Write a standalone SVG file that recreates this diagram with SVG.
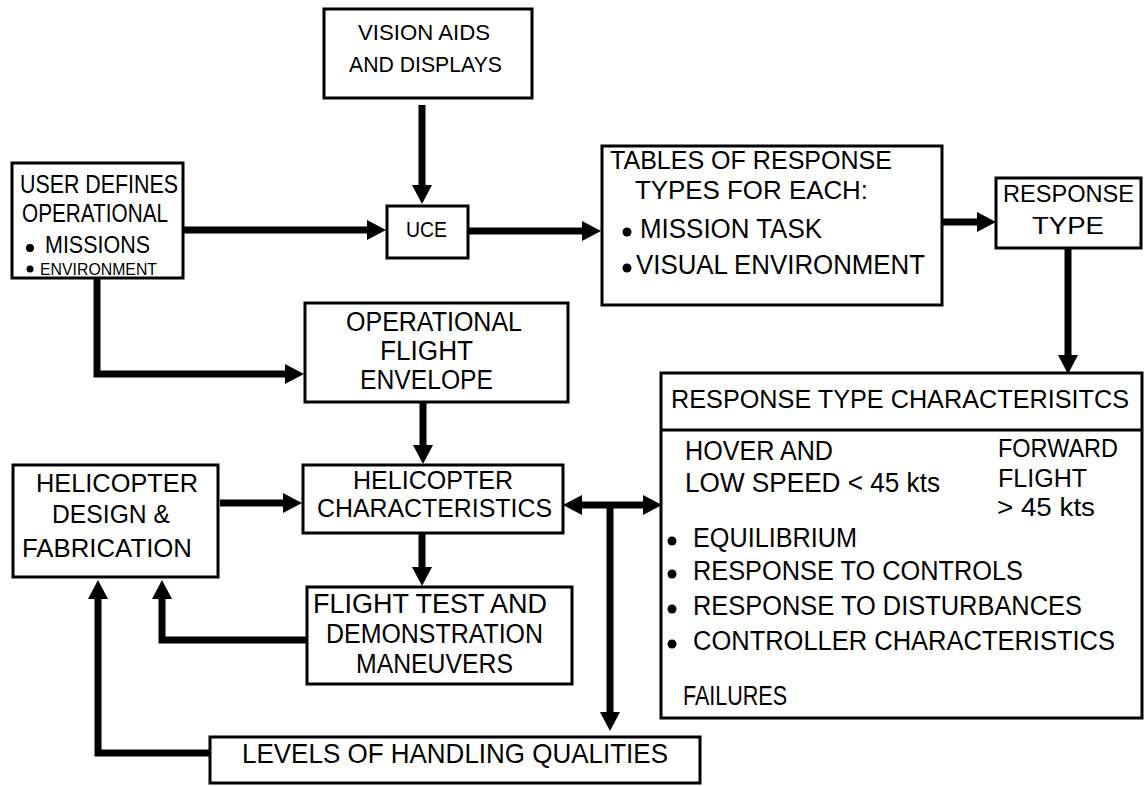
<svg xmlns="http://www.w3.org/2000/svg" width="1144" height="786" viewBox="0 0 1144 786">
<style>
  .box { fill: #fff; stroke: #000; stroke-width: 3; }
  .t { font-family: "Liberation Sans", Arial, sans-serif; fill: #000; }
  .c { fill: none; stroke: #000; stroke-width: 7; stroke-linejoin: miter; }
  .dot { fill: #000; }
</style>
<defs>
  <marker id="ah" markerUnits="userSpaceOnUse" markerWidth="19" markerHeight="20" refX="0" refY="10" orient="auto-start-reverse" viewBox="0 0 19 20">
    <path d="M0,0 L19,10 L0,20 z" fill="#000"/>
  </marker>
</defs>
<rect width="1144" height="786" fill="#fff"/>

<g id="connectors">
  <path class="c" d="M422,105 V185" marker-end="url(#ah)"/>
  <path class="c" d="M183,230 H367" marker-end="url(#ah)"/>
  <path class="c" d="M468,231 H582" marker-end="url(#ah)"/>
  <path class="c" d="M97,278 V374 H285" marker-end="url(#ah)"/>
  <path class="c" d="M423,402 V445" marker-end="url(#ah)"/>
  <path class="c" d="M220,503 H283" marker-end="url(#ah)"/>
  <path class="c" d="M422,533 V567" marker-end="url(#ah)"/>
  <path class="c" d="M942,222 H977" marker-end="url(#ah)"/>
  <path class="c" d="M1068,248 V355" marker-end="url(#ah)"/>
  <path class="c" d="M582,505 H643" marker-start="url(#ah)" marker-end="url(#ah)"/>
  <path class="c" d="M610,505 V712" marker-end="url(#ah)"/>
  <path class="c" d="M307,640 H162 V599" marker-end="url(#ah)"/>
  <path class="c" d="M210,753 H98 V599" marker-end="url(#ah)"/>
</g>

<g id="vision">
  <rect class="box" x="324" y="9" width="208" height="89"/>
  <text class="t" x="358" y="40" font-size="22" textLength="132" lengthAdjust="spacingAndGlyphs">VISION AIDS</text>
  <text class="t" x="349" y="72" font-size="22" textLength="153" lengthAdjust="spacingAndGlyphs">AND DISPLAYS</text>
</g>

<g id="user">
  <rect class="box" x="12" y="163" width="171" height="115"/>
  <text class="t" x="20" y="193" font-size="25" textLength="158" lengthAdjust="spacingAndGlyphs">USER DEFINES</text>
  <text class="t" x="22" y="222" font-size="25" textLength="146" lengthAdjust="spacingAndGlyphs">OPERATIONAL</text>
  <circle class="dot" cx="30" cy="248" r="4"/>
  <text class="t" x="45" y="253" font-size="24" textLength="105" lengthAdjust="spacingAndGlyphs">MISSIONS</text>
  <circle class="dot" cx="30" cy="269" r="3.5"/>
  <text class="t" x="40" y="275" font-size="16" textLength="117" lengthAdjust="spacingAndGlyphs">ENVIRONMENT</text>
</g>

<g id="uce">
  <rect class="box" x="387" y="206" width="81" height="52"/>
  <text class="t" x="406" y="237" font-size="22" textLength="41" lengthAdjust="spacingAndGlyphs">UCE</text>
</g>

<g id="tables">
  <rect class="box" x="602" y="146" width="340" height="159"/>
  <text class="t" x="610" y="169" font-size="25" textLength="282" lengthAdjust="spacingAndGlyphs">TABLES OF RESPONSE</text>
  <text class="t" x="635" y="199" font-size="25" textLength="233" lengthAdjust="spacingAndGlyphs">TYPES FOR EACH:</text>
  <circle class="dot" cx="627" cy="232" r="4.5"/>
  <text class="t" x="640" y="238" font-size="27" textLength="182" lengthAdjust="spacingAndGlyphs">MISSION TASK</text>
  <circle class="dot" cx="627" cy="268" r="4.5"/>
  <text class="t" x="636" y="274" font-size="27" textLength="289" lengthAdjust="spacingAndGlyphs">VISUAL ENVIRONMENT</text>
</g>

<g id="response-type">
  <rect class="box" x="996" y="178" width="145" height="70"/>
  <text class="t" x="1003" y="202" font-size="24" textLength="131" lengthAdjust="spacingAndGlyphs">RESPONSE</text>
  <text class="t" x="1032" y="234" font-size="24" textLength="72" lengthAdjust="spacingAndGlyphs">TYPE</text>
</g>

<g id="envelope">
  <rect class="box" x="305" y="303" width="263" height="99"/>
  <text class="t" x="346" y="331" font-size="27" textLength="176" lengthAdjust="spacingAndGlyphs">OPERATIONAL</text>
  <text class="t" x="380" y="360" font-size="27" textLength="93" lengthAdjust="spacingAndGlyphs">FLIGHT</text>
  <text class="t" x="360" y="389" font-size="27" textLength="133" lengthAdjust="spacingAndGlyphs">ENVELOPE</text>
</g>

<g id="heli-design">
  <rect class="box" x="13" y="465" width="205" height="112"/>
  <text class="t" x="36" y="492" font-size="26" textLength="162" lengthAdjust="spacingAndGlyphs">HELICOPTER</text>
  <text class="t" x="52" y="523" font-size="26" textLength="118" lengthAdjust="spacingAndGlyphs">DESIGN &amp;</text>
  <text class="t" x="22" y="557" font-size="26" textLength="170" lengthAdjust="spacingAndGlyphs">FABRICATION</text>
</g>

<g id="heli-char">
  <rect class="box" x="303" y="465" width="260" height="68"/>
  <text class="t" x="353" y="489" font-size="26" textLength="160" lengthAdjust="spacingAndGlyphs">HELICOPTER</text>
  <text class="t" x="317" y="517" font-size="26" textLength="235" lengthAdjust="spacingAndGlyphs">CHARACTERISTICS</text>
</g>

<g id="flight-test">
  <rect class="box" x="307" y="587" width="265" height="97"/>
  <text class="t" x="313" y="613" font-size="27" textLength="234" lengthAdjust="spacingAndGlyphs">FLIGHT TEST AND</text>
  <text class="t" x="326" y="643" font-size="27" textLength="217" lengthAdjust="spacingAndGlyphs">DEMONSTRATION</text>
  <text class="t" x="356" y="673" font-size="27" textLength="157" lengthAdjust="spacingAndGlyphs">MANEUVERS</text>
</g>

<g id="levels">
  <rect class="box" x="210" y="737" width="490" height="46"/>
  <text class="t" x="242" y="763" font-size="28" textLength="426" lengthAdjust="spacingAndGlyphs">LEVELS OF HANDLING QUALITIES</text>
</g>

<g id="rt-characteristics">
  <rect class="box" x="661" y="373" width="481" height="345"/>
  <line x1="661" y1="430" x2="1142" y2="430" stroke="#000" stroke-width="3"/>
  <text class="t" x="671" y="408" font-size="25" textLength="458" lengthAdjust="spacingAndGlyphs">RESPONSE TYPE CHARACTERISITCS</text>
  <text class="t" x="685" y="460" font-size="27" textLength="148" lengthAdjust="spacingAndGlyphs">HOVER AND</text>
  <text class="t" x="685" y="492" font-size="27" textLength="255" lengthAdjust="spacingAndGlyphs">LOW SPEED &lt; 45 kts</text>
  <text class="t" x="998" y="457" font-size="26" textLength="120" lengthAdjust="spacingAndGlyphs">FORWARD</text>
  <text class="t" x="998" y="487" font-size="26" textLength="89" lengthAdjust="spacingAndGlyphs">FLIGHT</text>
  <text class="t" x="997" y="516" font-size="26" textLength="98" lengthAdjust="spacingAndGlyphs">&gt; 45 kts</text>
  <circle class="dot" cx="672" cy="541" r="4.5"/>
  <text class="t" x="693" y="547" font-size="27" textLength="164" lengthAdjust="spacingAndGlyphs">EQUILIBRIUM</text>
  <circle class="dot" cx="672" cy="574" r="4.5"/>
  <text class="t" x="693" y="580" font-size="27" textLength="330" lengthAdjust="spacingAndGlyphs">RESPONSE TO CONTROLS</text>
  <circle class="dot" cx="672" cy="609" r="4.5"/>
  <text class="t" x="693" y="615" font-size="27" textLength="389" lengthAdjust="spacingAndGlyphs">RESPONSE TO DISTURBANCES</text>
  <circle class="dot" cx="672" cy="644" r="4.5"/>
  <text class="t" x="693" y="650" font-size="27" textLength="422" lengthAdjust="spacingAndGlyphs">CONTROLLER CHARACTERISTICS</text>
  <text class="t" x="683" y="705" font-size="27" textLength="104" lengthAdjust="spacingAndGlyphs">FAILURES</text>
</g>
</svg>
